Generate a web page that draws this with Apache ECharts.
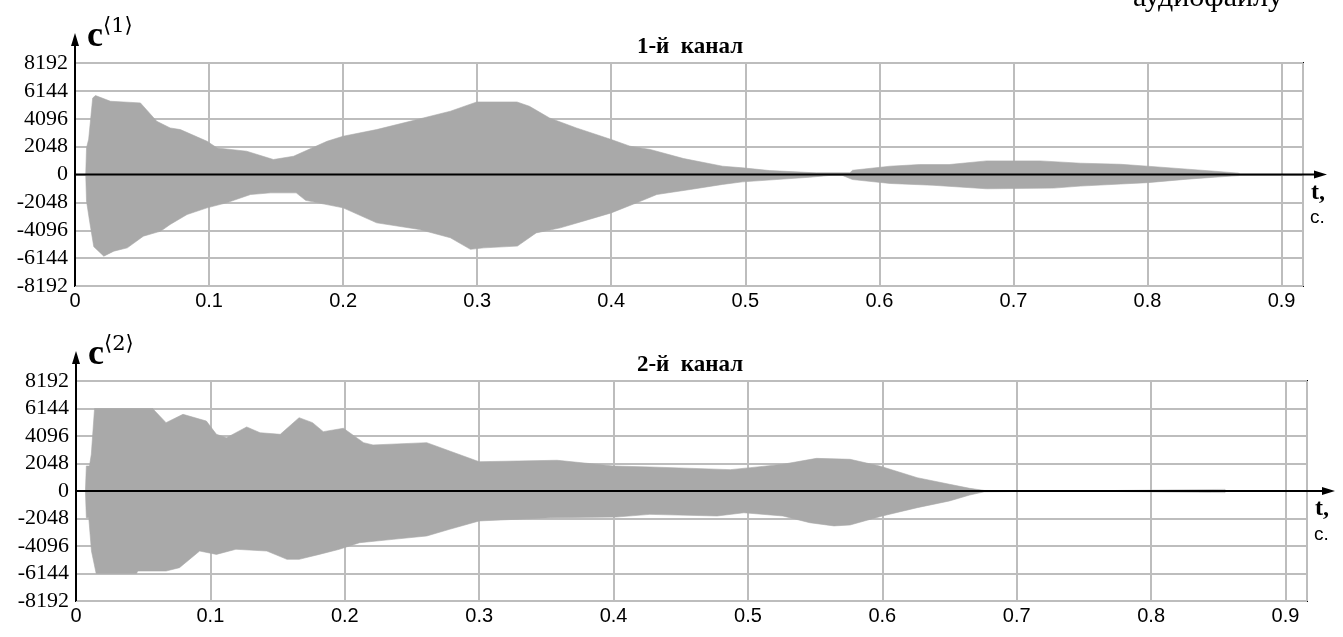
<!DOCTYPE html>
<html>
<head>
<meta charset="utf-8">
<script src="https://cdn.jsdelivr.net/npm/echarts@6/dist/echarts.min.js"></script>
<style>
  html, body { margin: 0; padding: 0; background: #fff; }
  #chart { width: 1343px; height: 637px; }
</style>
</head>
<body>
<div id="chart"></div>
<script>
// Envelope of channel 1 (time in seconds, amplitude in counts)
const ch1Upper = [
  [0.0080, 0], [0.0086, 1950], [0.0102, 2600], [0.0132, 5620], [0.0153, 5800],
  [0.0265, 5380], [0.0488, 5260], [0.061, 3910], [0.071, 3420], [0.0786, 3300],
  [0.0985, 2440], [0.106, 1950], [0.128, 1710], [0.148, 1100], [0.163, 1340],
  [0.188, 2440], [0.200, 2810], [0.225, 3300], [0.250, 3910], [0.280, 4650],
  [0.2997, 5330], [0.3297, 5330], [0.339, 5010], [0.354, 4150], [0.374, 3420],
  [0.400, 2570], [0.414, 2080], [0.429, 1840], [0.454, 1170], [0.483, 610],
  [0.498, 490], [0.518, 290], [0.553, 120], [0.578, 120], [0.580, 310],
  [0.608, 610], [0.630, 730], [0.652, 730], [0.680, 1000], [0.720, 1000],
  [0.750, 830], [0.780, 750], [0.800, 610], [0.830, 390], [0.850, 240],
  [0.868, 100], [0.869, 0]
];
const ch1Lower = [
  [0.0080, 0], [0.0086, -1960], [0.0095, -1960], [0.0110, -3500], [0.0140, -5300],
  [0.0215, -6000], [0.029, -5630], [0.039, -5390], [0.051, -4530], [0.064, -4160],
  [0.071, -3670], [0.0836, -2940], [0.0985, -2450], [0.113, -2080], [0.131, -1470],
  [0.146, -1350], [0.165, -1350], [0.172, -1900], [0.200, -2450], [0.225, -3550],
  [0.257, -4040], [0.280, -4650], [0.295, -5500], [0.305, -5390], [0.330, -5260],
  [0.344, -4290], [0.362, -3920], [0.379, -3430], [0.400, -2820], [0.419, -2080],
  [0.434, -1470], [0.459, -1100], [0.483, -730], [0.498, -540], [0.523, -370],
  [0.548, -200], [0.565, -50], [0.572, -50], [0.580, -370], [0.608, -660],
  [0.640, -790], [0.680, -1050], [0.730, -1000], [0.750, -850], [0.780, -700],
  [0.800, -600], [0.830, -340], [0.850, -200], [0.868, -80], [0.869, 0]
];

// Envelope of channel 2
const ch2Upper = [
  [0.0070, 0], [0.0077, 1860], [0.0100, 1860], [0.0114, 2730], [0.0138, 6144],
  [0.057, 6144], [0.067, 5090], [0.0796, 5710], [0.097, 5210], [0.1045, 4220],
  [0.112, 3970], [0.127, 4770], [0.137, 4340], [0.152, 4220], [0.166, 5460],
  [0.176, 5090], [0.184, 4420], [0.199, 4670], [0.214, 3600], [0.221, 3430],
  [0.261, 3600], [0.278, 2980], [0.300, 2180], [0.358, 2290], [0.400, 1860],
  [0.427, 1790], [0.487, 1590], [0.502, 1740], [0.526, 1990], [0.551, 2430],
  [0.576, 2360], [0.598, 1860], [0.626, 990], [0.650, 500], [0.665, 200],
  [0.676, 40], [0.677, 0], [0.737, 0], [0.738, 120], [0.855, 120], [0.856, 0]
];
const ch2Lower = [
  [0.0070, 0], [0.0077, -1990], [0.0095, -1990], [0.0115, -4470], [0.0150, -6144],
  [0.045, -6144], [0.046, -5960], [0.067, -5960], [0.077, -5710], [0.092, -4470],
  [0.1045, -4720], [0.119, -4340], [0.142, -4470], [0.157, -5090], [0.166, -5090],
  [0.181, -4720], [0.196, -4340], [0.211, -3850], [0.236, -3600], [0.261, -3350],
  [0.278, -2850], [0.300, -2230], [0.353, -1990], [0.402, -1940], [0.427, -1740],
  [0.477, -1860], [0.497, -1620], [0.526, -1860], [0.546, -2360], [0.564, -2600],
  [0.576, -2530], [0.600, -1860], [0.626, -1240], [0.650, -740], [0.665, -300],
  [0.676, -60], [0.677, 0], [0.737, 0], [0.738, -120], [0.855, -120], [0.856, 0]
];

const titles = ['1-й  канал', '2-й  канал'];
const channelIdx = ['1', '2'];
const yTicks = { min: -8192, max: 8192, step: 2048 };
const xTicks = { min: 0, max: 0.916, step: 0.1 };

const FILL = '#a9a9a9';
const GRIDLINE = '#bdbdbd';
const SERIF = '"Liberation Serif", "Times New Roman", serif';
const SANS = '"Liberation Sans", Arial, sans-serif';

const chart = echarts.init(document.getElementById('chart'), null, { renderer: 'canvas' });

const grids = [
  { left: 75, right: 40, top: 63, height: 223 },
  { left: 76, right: 36, top: 381, height: 220 }
];

function xAxisCfg(i) {
  return {
    gridIndex: i, type: 'value', min: xTicks.min, max: xTicks.max, interval: xTicks.step,
    axisLine: { show: false }, axisTick: { show: false },
    splitLine: { show: true, lineStyle: { color: GRIDLINE, width: 2 } },
    axisLabel: {
      showMaxLabel: false, margin: 5, color: '#000', fontFamily: SANS, fontSize: 20,
      formatter: v => (v === 0 ? '0' : v.toFixed(1))
    }
  };
}
function yAxisCfg(i) {
  return {
    gridIndex: i, type: 'value', min: yTicks.min, max: yTicks.max, interval: yTicks.step,
    axisLine: { show: false }, axisTick: { show: false },
    splitLine: { show: true, lineStyle: { color: GRIDLINE, width: 2 } },
    axisLabel: {
      margin: 7, color: '#000', fontFamily: SERIF, fontSize: 22,
      formatter: v => String(Math.round(v))
    }
  };
}
function envelope(i, data) {
  return {
    type: 'line', xAxisIndex: i, yAxisIndex: i, data: data,
    showSymbol: false, symbol: 'none', smooth: false, silent: true,
    lineStyle: { width: 0.6, color: FILL },
    areaStyle: { color: FILL, opacity: 1 },
    z: 2
  };
}

chart.setOption({
  animation: false,
  backgroundColor: '#fff',
  grid: grids.map(g => Object.assign({ show: true, borderColor: '#000', borderWidth: 2, backgroundColor: '#fff' }, g)),
  xAxis: [xAxisCfg(0), xAxisCfg(1)],
  yAxis: [yAxisCfg(0), yAxisCfg(1)],
  series: [
    envelope(0, ch1Upper), envelope(0, ch1Lower),
    envelope(1, ch2Upper), envelope(1, ch2Lower)
  ]
});

function txt(x, y, text, size, family, weight, extra) {
  return {
    type: 'text', z: 10, x: x, y: y,
    style: Object.assign({
      text: text, fontSize: size, fontFamily: family, fontWeight: weight || 'normal', fill: '#000'
    }, extra || {})
  };
}

// Axis arrows, axis names and panel titles placed from the axes' own pixel mapping
const deco = [
  txt(1133, -17, 'аудиофайлу', 30, SERIF, 'normal')
];
[0, 1].forEach(i => {
  const origin = chart.convertToPixel({ gridIndex: i }, [0, 0]);
  const topLeft = chart.convertToPixel({ gridIndex: i }, [0, yTicks.max]);
  const botRight = chart.convertToPixel({ gridIndex: i }, [xTicks.max, yTicks.min]);
  const x0 = origin[0], y0 = origin[1], yTop = topLeft[1], xRight = botRight[0], yBot = botRight[1];
  const arrowX = xRight + 24 + i * 4;
  const arrowY = yTop - 30;
  deco.push(
    // vertical axis with arrow
    { type: 'line', z: 10, shape: { x1: x0, y1: yBot, x2: x0, y2: arrowY + 6 }, style: { stroke: '#000', lineWidth: 2 } },
    { type: 'polygon', z: 10, shape: { points: [[x0, arrowY], [x0 - 4, arrowY + 13], [x0 + 4, arrowY + 13]] }, style: { fill: '#000' } },
    // time axis through zero with arrow
    { type: 'line', z: 10, shape: { x1: x0, y1: y0, x2: arrowX - 6, y2: y0 }, style: { stroke: '#000', lineWidth: 2 } },
    { type: 'polygon', z: 10, shape: { points: [[arrowX, y0], [arrowX - 13, y0 - 4], [arrowX - 13, y0 + 4]] }, style: { fill: '#000' } },
    // axis names
    txt(x0 + 12, yTop - 8, 'c', 36, SERIF, 'bold', { verticalAlign: 'bottom' }),
    txt(x0 + 28, yTop - 26, '⟨' + channelIdx[i] + '⟩', 21, '"DejaVu Serif", ' + SERIF, 'normal', { verticalAlign: 'bottom' }),
    txt(xRight + 8, y0 + 30, 't,', 24, SERIF, 'bold', { verticalAlign: 'bottom' }),
    txt(xRight + 7, y0 + 53, 'с.', 19, SANS, 'normal', { verticalAlign: 'bottom' }),
    // panel title
    txt(690, yTop - 16, titles[i], 23, SERIF, 'bold', { align: 'center', verticalAlign: 'middle' })
  );
});
chart.setOption({ graphic: deco });
</script>
</body>
</html>
